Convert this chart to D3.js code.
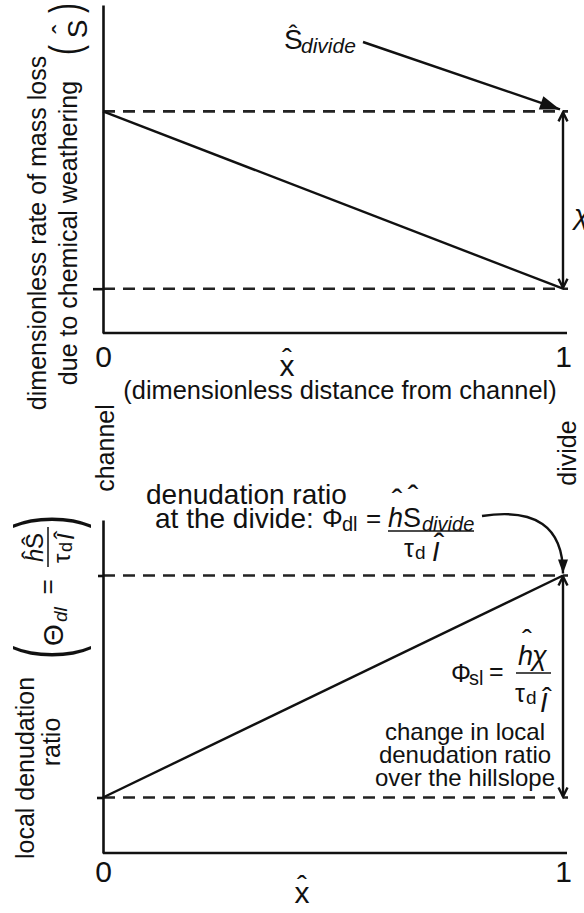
<!DOCTYPE html>
<html>
<head>
<meta charset="utf-8">
<script src="https://cdn.jsdelivr.net/npm/d3@7"></script>
<style>
  html, body { margin: 0; padding: 0; background: #fff; }
  svg { display: block; }
  text { font-family: "Liberation Sans", Arial, Helvetica, sans-serif; fill: #111; }
</style>
</head>
<body>
<svg id="chart" width="584" height="913"></svg>
<script>
// Hillslope profiles along the dimensionless distance from the channel (0) to the divide (1)
const xHat = [0, 1];
const sHat = [1.0, 0.2];        // dimensionless rate of mass loss due to chemical weathering
const thetaDl = [0.2, 1.0];     // local denudation ratio
const refLevels = [0.2, 1.0];   // dashed reference levels
const xTicks = [0, 1];
const xTickLabels = ["0", "1"];

const SANS = '"Liberation Sans", Arial, Helvetica, sans-serif';
const SERIF = '"Liberation Serif", "Times New Roman", serif';
const INK = "#111";

const svg = d3.select("#chart");

const x = d3.scaleLinear().domain([0, 1]).range([103, 563]);
const yTop = d3.scaleLinear().domain([0, 1.48]).range([333, 5]);
const yBot = d3.scaleLinear().domain([0, 1.2]).range([853, 520]);

// arrow heads
const defs = svg.append("defs");
defs.append("marker")
  .attr("id", "chev").attr("viewBox", "-12 -7 14 14")
  .attr("refX", 0).attr("refY", 0)
  .attr("markerWidth", 14).attr("markerHeight", 14)
  .attr("markerUnits", "userSpaceOnUse").attr("orient", "auto-start-reverse")
  .append("path").attr("d", "M-9,-4.5L0,0L-9,4.5")
  .attr("fill", "none").attr("stroke", INK).attr("stroke-width", 2.4);
defs.append("marker")
  .attr("id", "tri").attr("viewBox", "-22 -9 24 18")
  .attr("refX", 0).attr("refY", 0)
  .attr("markerWidth", 24).attr("markerHeight", 18)
  .attr("markerUnits", "userSpaceOnUse").attr("orient", "auto")
  .append("path").attr("d", "M-20,-7L0,0L-20,7Z").attr("fill", INK);
defs.append("marker")
  .attr("id", "triS").attr("viewBox", "-16 -7 18 14")
  .attr("refX", 0).attr("refY", 0)
  .attr("markerWidth", 18).attr("markerHeight", 14)
  .attr("markerUnits", "userSpaceOnUse").attr("orient", "auto")
  .append("path").attr("d", "M-14,-5L0,0L-14,5Z").attr("fill", INK);

function label(parent, px, py, str, o = {}) {
  const t = parent.append("text")
    .attr("x", px).attr("y", py)
    .attr("font-size", o.size || 25)
    .attr("font-family", o.family || SANS)
    .attr("font-style", o.italic ? "italic" : "normal")
    .attr("text-anchor", o.anchor || "start")
    .text(str);
  if (o.transform) t.attr("transform", o.transform);
  return t;
}
function hat(parent, cx, py, size) {
  return label(parent, cx, py, "\u02C6", { size: size, anchor: "middle" });
}
function rotated(cx, cy) {
  return svg.append("g").attr("transform", `translate(${cx},${cy}) rotate(-90)`);
}

function panel(y, values, opt) {
  const g = svg.append("g");
  // dashed reference levels
  g.selectAll("line.ref").data(refLevels).join("line")
    .attr("class", "ref")
    .attr("x1", x(0)).attr("x2", x(1) + 5)
    .attr("y1", d => y(d)).attr("y2", d => y(d))
    .attr("stroke", "#222").attr("stroke-width", 2.6)
    .attr("stroke-dasharray", "12,8");

  // axes
  const yAxis = d3.axisLeft(y).tickValues(refLevels).tickSize(0).tickSizeOuter(0).tickFormat("");
  const ya = g.append("g").attr("transform", `translate(${x(0)},0)`).call(yAxis);
  ya.selectAll(".tick line").attr("x2", (d, i) => -opt.ticks[i]);
  ya.selectAll("path, line").attr("stroke", INK).attr("stroke-width", 2.6);

  const xAxis = d3.axisBottom(x).tickValues(xTicks).tickSize(0).tickSizeOuter(0)
    .tickFormat((d, i) => xTickLabels[i]);
  const xa = g.append("g").attr("transform", `translate(0,${y(0)})`).call(xAxis);
  xa.select(".domain").attr("d", `M${x(0)},0H${x(1) + 4}`).attr("stroke", INK).attr("stroke-width", 2.6);
  xa.selectAll("text").attr("font-family", SANS).attr("font-size", 30).attr("fill", INK)
    .attr("dy", null).attr("y", opt.labelOffset);

  // profile
  const line = d3.line().x((d, i) => x(xHat[i])).y(d => y(d));
  g.append("path").datum(values).attr("d", line)
    .attr("fill", "none").attr("stroke", INK).attr("stroke-width", 2.4);

  // change between the reference levels at the divide
  g.append("line")
    .attr("x1", x(1)).attr("x2", x(1))
    .attr("y1", y(refLevels[1]) + 1).attr("y2", y(refLevels[0]) - 1)
    .attr("stroke", INK).attr("stroke-width", 2.4)
    .attr("marker-start", "url(#chev)").attr("marker-end", "url(#chev)");
  return g;
}

// ---------- top panel ----------
panel(yTop, sHat, { ticks: [10, 0], labelOffset: 34 });

// x axis title
label(svg, 287, 376, "x", { size: 30, anchor: "middle" });
hat(svg, 287, 369, 30);
label(svg, 340, 399, "(dimensionless distance from channel)", { size: 25.4, anchor: "middle" });

// y axis title
const gTopY = rotated(0, 233);
label(gTopY, 0, 46, "dimensionless rate of mass loss", { size: 25, anchor: "middle" });
label(gTopY, 0, 77, "due to chemical weathering", { size: 25, anchor: "middle" });
label(gTopY, 0, 0, "(", { size: 30, transform: "translate(178,80) scale(1,1.5)" });
label(gTopY, 0, 0, ")", { size: 30, anchor: "end", transform: "translate(230,80) scale(1,1.5)" });
label(gTopY, 204, 87, "S", { size: 28, anchor: "middle" });
hat(gTopY, 204, 72, 28);

// chi
label(svg, x(1) + 11, 224, "\u03C7", { size: 28, family: SERIF, italic: true });

// S_divide callout
label(svg, 284, 49, "S", { size: 28 });
hat(svg, 293, 43, 26);
label(svg, 301, 53, "divide", { size: 21, italic: true });
svg.append("line")
  .attr("x1", 363).attr("y1", 42)
  .attr("x2", x(1) - 3).attr("y2", yTop(refLevels[1]) - 2)
  .attr("stroke", INK).attr("stroke-width", 2.4)
  .attr("marker-end", "url(#tri)");

// ends of the hillslope
label(rotated(0, 448), 0, 114, "channel", { size: 25, anchor: "middle" });
label(rotated(0, 453), 0, 576, "divide", { size: 25, anchor: "middle" });

// ---------- bottom panel ----------
panel(yBot, thetaDl, { ticks: [6, 5], labelOffset: 29 });
label(svg, 302, 903, "x", { size: 30, anchor: "middle" });
hat(svg, 302, 896, 30);

// y axis title
const gBotY = rotated(0, 768);
label(gBotY, 0, 34, "local denudation", { size: 25, anchor: "middle" });
label(gBotY, 26, 60, "ratio", { size: 25, anchor: "middle" });
label(gBotY, 0, 0, "(", { size: 40, transform: "translate(109,74) scale(1,2.1)" });
label(gBotY, 0, 0, ")", { size: 40, anchor: "end", transform: "translate(253,74) scale(1,2.1)" });
label(gBotY, 133, 63, "\u0398", { size: 28, family: SERIF, anchor: "middle" });
label(gBotY, 146, 67, "dl", { size: 19, italic: true });
label(gBotY, 181, 56, "=", { size: 26, anchor: "middle" });
label(gBotY, 206, 43, "h", { size: 24, family: SERIF, italic: true });
label(gBotY, 219, 43, "S", { size: 24 });
hat(gBotY, 213, 40, 26);
hat(gBotY, 227, 40, 26);
gBotY.append("line").attr("x1", 201).attr("x2", 241).attr("y1", 48).attr("y2", 48)
  .attr("stroke", INK).attr("stroke-width", 1.5);
label(gBotY, 205, 70, "\u03C4", { size: 24, family: SERIF });
label(gBotY, 216, 72, "d", { size: 18 });
label(gBotY, 228, 74, "I", { size: 24, family: SERIF, italic: true });
hat(gBotY, 233, 72, 26);

// denudation ratio at the divide
label(svg, 146, 504, "denudation ratio", { size: 28 });
label(svg, 155, 528, "at the divide:", { size: 28 });
label(svg, 322, 527, "\u03A6", { size: 26, family: SERIF });
label(svg, 342, 531, "dl", { size: 20 });
label(svg, 366, 527, "=", { size: 26 });
label(svg, 388, 527, "h", { size: 27, family: SERIF, italic: true });
label(svg, 403, 527, "S", { size: 27 });
label(svg, 422, 531, "divide", { size: 20, italic: true });
hat(svg, 397, 512, 32);
hat(svg, 413, 508, 32);
svg.append("line").attr("x1", 388).attr("x2", 474).attr("y1", 531).attr("y2", 531)
  .attr("stroke", INK).attr("stroke-width", 1.5);
label(svg, 404, 557, "\u03C4", { size: 25, family: SERIF });
label(svg, 415, 559, "d", { size: 19 });
label(svg, 432, 561, "I", { size: 27, family: SERIF, italic: true });
hat(svg, 439, 556, 32);
svg.append("path")
  .attr("d", `M482,516 C535,508 ${x(1)},526 ${x(1)},${yBot(refLevels[1]) - 2}`)
  .attr("fill", "none").attr("stroke", INK).attr("stroke-width", 2.4)
  .attr("marker-end", "url(#triS)");

// change over the hillslope
label(svg, 451, 682, "\u03A6", { size: 25, family: SERIF });
label(svg, 469, 685, "sl", { size: 20 });
label(svg, 489, 680, "=", { size: 25 });
label(svg, 518, 665, "h", { size: 27, family: SERIF, italic: true });
label(svg, 532, 665, "\u03C7", { size: 27, family: SERIF, italic: true });
hat(svg, 527, 650, 30);
svg.append("line").attr("x1", 516).attr("x2", 551).attr("y1", 673).attr("y2", 673)
  .attr("stroke", INK).attr("stroke-width", 1.5);
label(svg, 515, 702, "\u03C4", { size: 25, family: SERIF });
label(svg, 526, 704, "d", { size: 19 });
label(svg, 540, 712, "I", { size: 27, family: SERIF, italic: true });
hat(svg, 547, 708, 30);

label(svg, 465, 740, "change in local", { size: 24, anchor: "middle" });
label(svg, 465, 763, "denudation ratio", { size: 24, anchor: "middle" });
label(svg, 465, 786, "over the hillslope", { size: 24, anchor: "middle" });
</script>
</body>
</html>
